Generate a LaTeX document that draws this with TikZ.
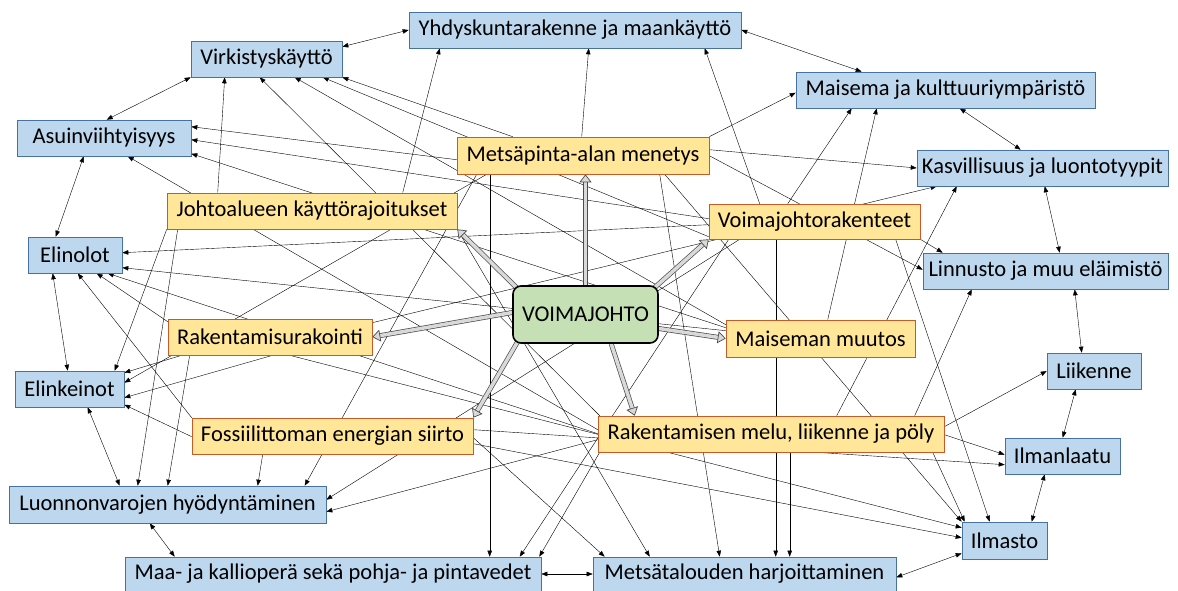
\documentclass[tikz,border=0pt]{standalone}
\usepackage{fontspec}
\setmainfont{Carlito}
\usetikzlibrary{arrows.meta,backgrounds}

\definecolor{kohdefill}{RGB}{189,215,238}
\definecolor{kohdedraw}{RGB}{70,114,160}
\definecolor{tekijafill}{RGB}{255,230,153}
\definecolor{tekijadraw}{RGB}{200,90,40}
\definecolor{voimafill}{RGB}{197,224,180}

\begin{document}
\begin{tikzpicture}[x=1pt, y=-1pt, >={Triangle[length=6pt,width=4.5pt]}, line width=0.6pt,
  kohde/.style={draw=kohdedraw, fill=kohdefill, inner sep=0pt, font=\fontsize{22.5}{26}\selectfont},
  tekija/.style={draw=tekijadraw, fill=tekijafill, inner sep=0pt, font=\fontsize{22.5}{26}\selectfont},
  voima/.style={draw=black, line width=1.6pt, fill=voimafill, rounded corners=8pt, inner sep=0pt, font=\fontsize{22.5}{26}\selectfont},
  yks/.style={->},
  kaks/.style={<->},
  iso/.style={draw=black!70, double=black!15, double distance=3.5pt, line width=0.7pt,
    -{Triangle[length=8pt,width=12pt,fill=black!15]}}]
\useasboundingbox (0,0) rectangle (1178,591);

% vaikutuskohteet
\node[kohde, minimum width=332, minimum height=36] (yhd) at (575,30) {Yhdyskuntarakenne ja maankäyttö};
\node[kohde, minimum width=151, minimum height=36] (virk) at (266.5,59) {Virkistyskäyttö};
\node[kohde, minimum width=174, minimum height=36] (asui) at (104,138) {Asuinviihtyisyys};
\node[kohde, minimum width=94, minimum height=36] (elin) at (75,255) {Elinolot};
\node[kohde, minimum width=109, minimum height=36] (elik) at (69.5,389) {Elinkeinot};
\node[kohde, minimum width=317, minimum height=37] (luon) at (167.5,504.5) {Luonnonvarojen hyödyntäminen};
\node[kohde, minimum width=416, minimum height=34] (maa) at (333,574) {Maa- ja kallioperä sekä pohja- ja pintavedet};
\node[kohde, minimum width=303, minimum height=34] (mets) at (744.5,574) {Metsätalouden harjoittaminen};
\node[kohde, minimum width=85, minimum height=37] (ilma) at (1004.5,540.5) {Ilmasto};
\node[kohde, minimum width=115, minimum height=36] (ilml) at (1062.5,456) {Ilmanlaatu};
\node[kohde, minimum width=94, minimum height=36] (liik) at (1094,371) {Liikenne};
\node[kohde, minimum width=245, minimum height=36] (linn) at (1045.5,271) {Linnusto ja muu eläimistö};
\node[kohde, minimum width=251, minimum height=36] (kasv) at (1042.5,168) {Kasvillisuus ja luontotyypit};
\node[kohde, minimum width=299, minimum height=36] (mais) at (945.5,90) {Maisema ja kulttuuriympäristö};

% vaikutustekijat
\node[tekija, minimum width=252, minimum height=37] (mpa) at (583,155.5) {Metsäpinta-alan menetys};
\node[tekija, minimum width=290, minimum height=36] (joht) at (312,211) {Johtoalueen käyttörajoitukset};
\node[tekija, minimum width=211, minimum height=35] (vrak) at (814.5,221.5) {Voimajohtorakenteet};
\node[tekija, minimum width=204, minimum height=36] (raku) at (270,337) {Rakentamisurakointi};
\node[tekija, minimum width=189, minimum height=37] (mmuu) at (820.5,338.5) {Maiseman muutos};
\node[tekija, minimum width=281, minimum height=36] (foss) at (332.5,436) {Fossiilittoman energian siirto};
\node[tekija, minimum width=346, minimum height=36] (rmel) at (771,434) {Rakentamisen melu, liikenne ja pöly};
\node[voima, minimum width=145, minimum height=57] (vj) at (585.5,314.5) {VOIMAJOHTO};

\begin{scope}[on background layer]
% kehan yhteydet
\draw[kaks] ([shift={(0,6)}]virk.north east) -- (yhd.west);
\draw[kaks] (virk.south west) -- ([shift={(90,0)}]asui.north west);
\draw[kaks] ([shift={(67,0)}]asui.south west) -- ([shift={(28,0)}]elin.north west);
\draw[kaks] ([shift={(25,0)}]elin.south west) -- ([shift={(53,0)}]elik.north west);
\draw[kaks] ([shift={(73,0)}]elik.south west) -- ([shift={(111,0)}]luon.north west);
\draw[kaks] ([shift={(141,0)}]luon.south west) -- ([shift={(50,0)}]maa.north west);
\draw[kaks] (maa.east) -- (mets.west);
\draw[kaks] ([shift={(0,-14)}]mets.south east) -- ([shift={(0,-6)}]ilma.south west);
\draw[kaks] ([shift={(70,0)}]ilma.north west) -- ([shift={(40,0)}]ilml.south west);
\draw[kaks] ([shift={(58,0)}]ilml.north west) -- ([shift={(29,0)}]liik.south west);
\draw[kaks] ([shift={(35,0)}]liik.north west) -- ([shift={(152,0)}]linn.south west);
\draw[kaks] ([shift={(137,0)}]linn.north west) -- ([shift={(128,0)}]kasv.south west);
\draw[kaks] ([shift={(104,0)}]kasv.north west) -- ([shift={(164,0)}]mais.south west);
\draw[kaks] ([shift={(66,0)}]mais.north west) -- (yhd.east);

% metsapinta-alan menetys
\draw[yks] ([shift={(125,0)}]mpa.north west) -- ([shift={(180,0)}]yhd.south west);
\draw[yks] (mpa.north east) -- ([shift={(0,21)}]mais.north west);
\draw[yks] ([shift={(0,13)}]mpa.north east) -- (kasv.west);
\draw[yks] ([shift={(0,19)}]mpa.north east) -- ([shift={(0,17)}]linn.north west);
\draw[yks] ([shift={(56,0)}]mpa.north west) -- (virk.south east);
\draw[yks] ([shift={(0,23)}]mpa.north west) -- ([shift={(0,7)}]asui.north east);
\draw[yks] ([shift={(30,0)}]mpa.south west) -- ([shift={(0,12)}]elik.north east);
\draw[yks] ([shift={(20,0)}]mpa.south west) -- ([shift={(296,0)}]luon.north west);
\draw[yks] ([shift={(33,0)}]mpa.south west) -- ([shift={(365,0)}]maa.north west);
\draw[yks] ([shift={(203,0)}]mpa.south west) -- ([shift={(127,0)}]mets.north west);
\draw[yks] ([shift={(208,0)}]mpa.south west) -- (ilma.north west);

% voimajohtorakenteet
\draw[yks] ([shift={(0,33)}]vrak.north west) -- ([shift={(132,0)}]virk.south west);
\draw[yks] ([shift={(0,15)}]vrak.north west) -- ([shift={(0,20)}]asui.north east);
\draw[yks] ([shift={(0,21)}]vrak.north west) -- ([shift={(0,16)}]elin.north east);
\draw[yks] ([shift={(51,0)}]vrak.north west) -- ([shift={(296,0)}]yhd.south west);
\draw[yks] ([shift={(79,0)}]vrak.north west) -- ([shift={(56,0)}]mais.south west);
\draw[yks] (vrak.south east) -- ([shift={(20,0)}]linn.north west);
\draw[yks] ([shift={(187,0)}]vrak.south west) -- ([shift={(28,0)}]ilma.north west);
\draw[yks] ([shift={(67,0)}]vrak.south west) -- ([shift={(183,0)}]mets.north west);
\draw[yks] ([shift={(20,0)}]vrak.south west) -- ([shift={(395,0)}]maa.north west);
\draw[yks] ([shift={(31,0)}]vrak.south west) -- ([shift={(0,14)}]luon.north east);

% johtoalueen kayttorajoitukset
\draw[yks] ([shift={(51,0)}]joht.north west) -- ([shift={(34,0)}]virk.south west);
\draw[yks] ([shift={(236,0)}]joht.north west) -- ([shift={(31,0)}]yhd.south west);
\draw[yks] (joht.south west) -- ([shift={(100,0)}]elik.north west);
\draw[yks] ([shift={(11,0)}]joht.south west) -- ([shift={(129,0)}]luon.north west);
\draw[yks] (joht.south east) -- ([shift={(57,0)}]mets.north west);

% rakentamisurakointi
\draw[yks] ([shift={(0,3)}]raku.north west) -- ([shift={(69,0)}]elin.south west);
\draw[yks] ([shift={(14,0)}]raku.south west) -- ([shift={(0,2)}]elik.north east);
\draw[yks] ([shift={(105,0)}]raku.south west) -- ([shift={(0,27)}]elik.north east);
\draw[yks] ([shift={(22,0)}]raku.south west) -- ([shift={(159,0)}]luon.north west);
\draw[yks] ([shift={(122,0)}]raku.south west) -- ([shift={(0,6)}]ilma.north west);
\draw[yks] ([shift={(0,4)}]raku.north east) -- ([shift={(20,0)}]kasv.south west);

% fossiilittoman energian siirto
\draw[yks] (foss.north west) -- ([shift={(50,0)}]elin.south west);
\draw[yks] ([shift={(0,19)}]foss.north west) -- ([shift={(0,34)}]elik.north east);
\draw[yks] ([shift={(71,0)}]foss.south west) -- ([shift={(249,0)}]luon.north west);
\draw[yks] ([shift={(0,20)}]foss.north east) -- ([shift={(12,0)}]mets.north west);
\draw[yks] ([shift={(0,26)}]foss.north east) -- ([shift={(0,16)}]ilma.north west);
\draw[yks] ([shift={(0,12)}]foss.north east) -- ([shift={(0,27)}]ilml.north west);

% maiseman muutos
\draw[yks] ([shift={(0,5)}]mmuu.north west) -- ([shift={(104,0)}]virk.south west);
\draw[yks] ([shift={(0,8)}]mmuu.north west) -- ([shift={(0,34)}]asui.north east);
\draw[yks] ([shift={(0,11)}]mmuu.north west) -- ([shift={(0,31)}]elin.north east);
\draw[yks] ([shift={(102,0)}]mmuu.north west) -- ([shift={(81,0)}]mais.south west);

% rakentamisen melu
\draw[yks] ([shift={(2,0)}]rmel.north west) -- ([shift={(69,0)}]virk.south west);
\draw[yks] ([shift={(0,14)}]rmel.north west) -- ([shift={(111,0)}]asui.south west);
\draw[yks] ([shift={(0,18)}]rmel.north west) -- ([shift={(80,0)}]elin.south west);
\draw[yks] ([shift={(0,24)}]rmel.north west) -- ([shift={(0,26)}]luon.north east);
\draw[yks] ([shift={(2,0)}]rmel.south west) -- ([shift={(-2,0)}]maa.north east);
\draw[yks] ([shift={(192,0)}]rmel.south west) -- ([shift={(197,0)}]mets.north west);
\draw[yks] ([shift={(335,0)}]rmel.south west) -- ([shift={(3,0)}]ilma.north west);
\draw[yks] ([shift={(0,19)}]rmel.north east) -- ([shift={(0,17)}]ilml.north west);
\draw[yks] ([shift={(0,11)}]rmel.north east) -- (liik.west);
\draw[yks] ([shift={(317,0)}]rmel.north west) -- ([shift={(49,0)}]linn.south west);
\draw[yks] ([shift={(239,0)}]rmel.north west) -- ([shift={(40,0)}]kasv.south west);

% voimajohdon paavaikutukset
\draw[iso] (vj.north) -- (vj.north |- mpa.south);
\draw[iso] ([shift={(6,4)}]vj.north west) -- (joht.south east);
\draw[iso] ([shift={(-6,4)}]vj.north east) -- (vrak.south west);
\draw[iso] ([shift={(0,-2)}]vj.west) -- (raku.east);
\draw[iso] ([shift={(0,14)}]vj.east) -- (mmuu.west);
\draw[iso] ([shift={(6,-3)}]vj.south west) -- (foss.north east);
\draw[iso] ([shift={(99,0)}]vj.south west) -- ([shift={(37,0)}]rmel.north west);
\end{scope}
\end{tikzpicture}
\end{document}
